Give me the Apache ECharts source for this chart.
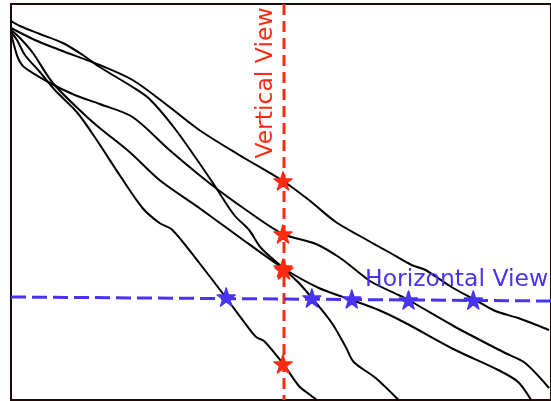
<!DOCTYPE html>
<html>
<head>
<meta charset="utf-8">
<script src="https://cdn.jsdelivr.net/npm/echarts@6/dist/echarts.min.js"></script>
<style>
  html, body { margin: 0; padding: 0; background: #fff; }
  #chart { width: 551px; height: 401px; }
</style>
</head>
<body>
<div id="chart"></div>
<script>
// curves (x, y in plot units, y grows downward)
var curveA = [[11,32],[17,40],[25,55],[40,72],[55,90],[77,112],[97,140],[120,175],[143,208],[160,223],[173,230],[200,263],[227,298],[245,322],[257,337],[265,341],[285,365],[300,386],[310,394],[318,400]];
var curveB = [[11,21],[20,26],[40,34],[63,43],[83,55],[100,67],[133,87],[150,99],[175,128],[200,163],[215,185],[235,215],[250,230],[262,248],[284,268],[300,283],[313,298],[333,323],[347,347],[355,362],[377,378],[400,400]];
var curveC = [[11,30],[20,38],[33,53],[53,83],[83,113],[100,128],[130,152],[160,180],[200,208],[240,237],[284,268],[320,288],[353,300],[380,310],[407,323],[457,350],[500,370],[520,382],[533,400]];
var curveD = [[11,33],[14,45],[18,58],[24,67],[50,83],[75,95],[100,104],[133,117],[170,150],[210,183],[247,210],[284,234],[317,244],[340,257],[357,270],[373,282],[400,295],[410,300],[457,327],[507,353],[527,363],[551,388]];
var curveE = [[11,28],[35,40],[60,50],[100,65],[133,80],[165,103],[200,130],[240,155],[284,181],[310,200],[337,222],[363,237],[390,252],[413,265],[427,270],[453,287],[477,300],[497,311],[520,318],[551,330]];

var verticalView = [[285,4],[285,400]];
var horizontalView = [[11,297],[553,301]];

var redStars = [[284,181],[284,234],[284,268],[285,270],[284,364]];
var blueStars = [[227,297],[313,298],[353,299],[410,300],[475,300]];

var RED = '#ff2a12';
var BLUE = '#4834f0';
var STAR = 'path://M0,-1 L0.2245,-0.309 L0.951,-0.309 L0.363,0.118 L0.588,0.809 L0,0.382 L-0.588,0.809 L-0.363,0.118 L-0.951,-0.309 L-0.2245,-0.309 Z';

var chart = echarts.init(document.getElementById('chart'), null, { renderer: 'canvas' });

function curve(data) {
    return {
        type: 'line', data: data, smooth: 0.3, showSymbol: false, silent: true,
        lineStyle: { color: '#000', width: 2 }, z: 2
    };
}

chart.setOption({
    animation: false,
    grid: {
        left: 11, top: 4, width: 542, height: 396,
        show: true, borderColor: '#1e0808', borderWidth: 2, backgroundColor: '#fff'
    },
    xAxis: {
        type: 'value', min: 11, max: 553,
        axisLine: { show: false }, axisTick: { show: false }, axisLabel: { show: false }, splitLine: { show: false }
    },
    yAxis: {
        type: 'value', min: 4, max: 400, inverse: true,
        axisLine: { show: false }, axisTick: { show: false }, axisLabel: { show: false }, splitLine: { show: false }
    },
    series: [
        curve(curveA), curve(curveB), curve(curveC), curve(curveD), curve(curveE),
        {
            type: 'line', data: verticalView, showSymbol: false, silent: true, z: 3,
            lineStyle: { color: RED, width: 3, type: [11, 6] }
        },
        {
            type: 'line', data: horizontalView, showSymbol: false, silent: true, z: 3,
            lineStyle: { color: BLUE, width: 3, type: [15, 6] }
        },
        {
            type: 'scatter', data: redStars, symbol: STAR, symbolSize: 18, silent: true, z: 4,
            itemStyle: { color: RED, opacity: 1, borderColor: RED, borderWidth: 1.5, borderJoin: 'round' }
        },
        {
            type: 'scatter', data: blueStars, symbol: STAR, symbolSize: 18, silent: true, z: 4,
            itemStyle: { color: BLUE, opacity: 1, borderColor: BLUE, borderWidth: 1.5, borderJoin: 'round' }
        }
    ],
    graphic: [
        {
            type: 'text', x: 266, y: 83, rotation: Math.PI / 2, z: 10,
            style: {
                text: 'Vertical View', fill: RED, font: '23.5px "DejaVu Sans"',
                align: 'center', verticalAlign: 'middle'
            }
        },
        {
            type: 'text', x: 365, y: 280, z: 10,
            style: {
                text: 'Horizontal View', fill: BLUE, font: '23.5px "DejaVu Sans"',
                align: 'left', verticalAlign: 'middle'
            }
        }
    ]
});
</script>
</body>
</html>
